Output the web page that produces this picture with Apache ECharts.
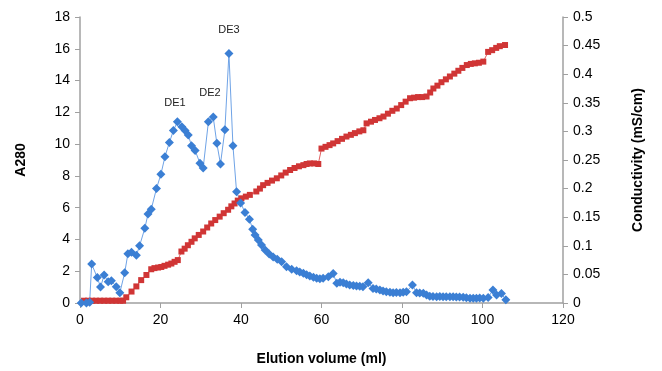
<!DOCTYPE html>
<html>
<head>
<meta charset="utf-8">
<script src="https://cdn.jsdelivr.net/npm/echarts@6/dist/echarts.min.js"></script>
<style>
  html, body { margin: 0; padding: 0; background: #fff; }
  #chart { width: 662px; height: 371px; }
</style>
</head>
<body>
<div id="chart"></div>
<script>
// A280 (left axis)
const a280X = [0.3, 1.6, 2.4, 2.9, 4.3, 5.1, 6.0, 7.0, 7.8, 9.0, 9.9, 11.1, 11.9, 12.8, 14.0, 14.8, 16.1, 16.9, 17.7, 19.0,
  20.1, 21.1, 22.2, 23.2, 24.2, 25.3, 26.1, 26.9, 27.7, 28.6, 29.8, 30.6, 31.9, 33.1, 34.0, 34.9, 36.0, 37.0, 38.0, 38.9,
  39.9, 41.0, 42.1, 42.9, 43.5, 44.3, 45.1, 46.0, 47.0, 48.0, 49.0, 50.1, 51.3, 52.6, 53.8, 54.6, 55.5, 56.3, 57.1, 58.0,
  58.8, 59.6, 60.4, 61.7, 62.9, 63.8, 64.6, 65.4, 66.2, 67.0, 67.9, 68.7, 69.5, 70.3, 71.6, 72.8, 73.6, 74.5, 75.3, 76.1,
  77.0, 77.8, 78.6, 79.5, 80.3, 81.1, 82.6, 83.6, 84.4, 85.3, 86.1, 86.9, 87.7, 88.6, 89.4, 90.2, 91.0, 91.9, 92.7, 93.5,
  94.3, 95.2, 96.0, 96.9, 97.7, 98.5, 99.3, 100.2, 101.4, 102.6, 103.5, 104.7, 105.8];
const a280Y = [0, 0, 0.05, 2.45, 1.6, 1.0, 1.76, 1.34, 1.4, 1.03, 0.65, 1.9, 3.1, 3.2, 3.0, 3.6, 4.7, 5.6, 5.9, 7.2,
  8.1, 9.2, 10.1, 10.85, 11.4, 11.1, 10.85, 10.57, 9.9, 9.6, 8.8, 8.5, 11.4, 11.7, 10.05, 8.75, 10.9, 15.7, 9.9, 7.0,
  6.3, 5.7, 5.27, 4.64, 4.28, 3.96, 3.65, 3.34, 3.08, 2.9, 2.75, 2.6, 2.28, 2.12, 2.03, 1.95, 1.87, 1.78, 1.7, 1.62,
  1.55, 1.52, 1.55, 1.65, 1.85, 1.24, 1.3, 1.28, 1.2, 1.13, 1.1, 1.07, 1.05, 1.03, 1.28, 0.92, 0.88, 0.82, 0.76, 0.71,
  0.68, 0.65, 0.66, 0.65, 0.68, 0.71, 1.13, 0.65, 0.63, 0.61, 0.5, 0.42, 0.41, 0.4, 0.41, 0.4, 0.4, 0.4, 0.39, 0.38,
  0.37, 0.36, 0.33, 0.3, 0.3, 0.3, 0.31, 0.3, 0.35, 0.82, 0.5, 0.6, 0.2];

// Conductivity (right axis)
const condX = [1, 2, 3, 4, 5, 6, 7, 8, 9, 10, 10.7, 11.5, 12.8, 14, 15.2, 16.5, 17.7, 18.5, 19.4, 20.2,
  21, 21.9, 22.7, 23.5, 24.3, 25.2, 26, 26.8, 27.7, 28.5, 29.5, 30.6, 31.6, 32.6, 33.6, 34.7, 35.7, 36.8, 37.6, 38.4,
  39.2, 40.1, 41.2, 42.2, 43.8, 44.7, 45.5, 46.6, 47.7, 48.9, 50, 51.1, 52.2, 53.3, 54.4, 55.5, 56.3, 57.1, 58.2, 59.2,
  60, 61, 62, 62.9, 64, 65.1, 66.2, 67.3, 68.3, 69.4, 70.4, 71.2, 72.3, 73.3, 74.4, 75.4, 76.5, 77.6, 78.7, 79.8,
  80.9, 82, 83, 84, 85, 86.1, 87, 87.8, 88.8, 89.8, 90.9, 91.9, 93, 94, 95, 96.1, 97.1, 98.1, 99.1, 100.2,
  101.4, 102.4, 103.4, 104.3, 105.6];
const condY = [0.004, 0.004, 0.004, 0.004, 0.004, 0.004, 0.004, 0.004, 0.004, 0.004, 0.004, 0.01, 0.02, 0.029, 0.04, 0.049, 0.059, 0.061, 0.062, 0.063,
  0.065, 0.067, 0.069, 0.072, 0.075, 0.09, 0.095, 0.101, 0.107, 0.113, 0.119, 0.125, 0.132, 0.139, 0.145, 0.151, 0.157, 0.163, 0.169, 0.174,
  0.179, 0.183, 0.186, 0.189, 0.195, 0.2, 0.206, 0.21, 0.214, 0.218, 0.223, 0.228, 0.2325, 0.236, 0.239, 0.241, 0.243, 0.244, 0.244, 0.243,
  0.27, 0.273, 0.276, 0.279, 0.283, 0.287, 0.291, 0.294, 0.297, 0.3, 0.302, 0.314, 0.317, 0.32, 0.323, 0.326, 0.331, 0.336, 0.34, 0.346,
  0.352, 0.358, 0.359, 0.36, 0.36, 0.361, 0.368, 0.375, 0.38, 0.386, 0.391, 0.396, 0.401, 0.406, 0.411, 0.416, 0.418, 0.419, 0.42, 0.422,
  0.439, 0.442, 0.446, 0.449, 0.451];

// peak labels
const peakNames = ['DE1', 'DE2', 'DE3'];
const peakX = [23.6, 32.3, 37.0];
const peakY = [12.6, 13.2, 17.2];

const font = 'Liberation Sans, Arial, sans-serif';
const axisGray = '#a0a0a0';

const chart = echarts.init(document.getElementById('chart'));

chart.setOption({
  animation: false,
  grid: { left: 80, right: 99, top: 17, bottom: 68 },
  xAxis: {
    type: 'value',
    min: 0, max: 120, interval: 20,
    name: 'Elution volume (ml)',
    nameLocation: 'middle',
    nameGap: 49,
    nameTextStyle: { fontFamily: font, fontSize: 14, fontWeight: 'bold', color: '#000' },
    axisLine: { lineStyle: { color: axisGray, width: 1.5 } },
    axisTick: { length: 5, lineStyle: { color: axisGray } },
    axisLabel: { fontFamily: font, fontSize: 14, color: '#000', margin: 10 },
    splitLine: { show: false }
  },
  yAxis: [
    {
      type: 'value',
      min: 0, max: 18, interval: 2,
      name: 'A280',
      nameLocation: 'middle',
      nameGap: 52,
      nameTextStyle: { fontFamily: font, fontSize: 14, fontWeight: 'bold', color: '#000' },
      axisLine: { show: true, lineStyle: { color: axisGray, width: 1.5 } },
      axisTick: { show: true, length: 5, lineStyle: { color: axisGray } },
      axisLabel: { fontFamily: font, fontSize: 14, color: '#000', margin: 10 },
      splitLine: { show: false }
    },
    {
      type: 'value',
      min: 0, max: 0.5, interval: 0.05,
      name: 'Conductivity (mS/cm)',
      nameLocation: 'middle',
      nameGap: 68,
      nameTextStyle: { fontFamily: font, fontSize: 14, fontWeight: 'bold', color: '#000' },
      axisLine: { show: true, lineStyle: { color: axisGray, width: 1.5 } },
      axisTick: { show: true, length: 5, lineStyle: { color: axisGray } },
      axisLabel: {
        fontFamily: font, fontSize: 14, color: '#000', margin: 10,
        formatter: v => String(Math.round(v * 100) / 100)
      },
      splitLine: { show: false }
    }
  ],
  series: [
    {
      name: 'Conductivity',
      type: 'line',
      yAxisIndex: 1,
      data: condX.map((x, i) => [x, condY[i]]),
      symbol: 'rect',
      symbolSize: 6,
      showAllSymbol: true,
      itemStyle: { color: '#d03535' },
      lineStyle: { color: '#e06060', width: 1 }
    },
    {
      name: 'A280',
      type: 'line',
      yAxisIndex: 0,
      data: a280X.map((x, i) => [x, a280Y[i]]),
      symbol: 'diamond',
      symbolSize: 9,
      showAllSymbol: true,
      itemStyle: { color: '#3b7fd4' },
      lineStyle: { color: '#6fa3e6', width: 1 },
      markPoint: {
        symbol: 'circle',
        symbolSize: 1,
        itemStyle: { color: 'rgba(0,0,0,0)' },
        label: {
          show: true,
          position: 'inside',
          formatter: p => p.name,
          fontFamily: font,
          fontSize: 11,
          color: '#222'
        },
        data: peakNames.map((n, i) => ({ name: n, coord: [peakX[i], peakY[i]] }))
      }
    }
  ]
});
</script>
</body>
</html>
